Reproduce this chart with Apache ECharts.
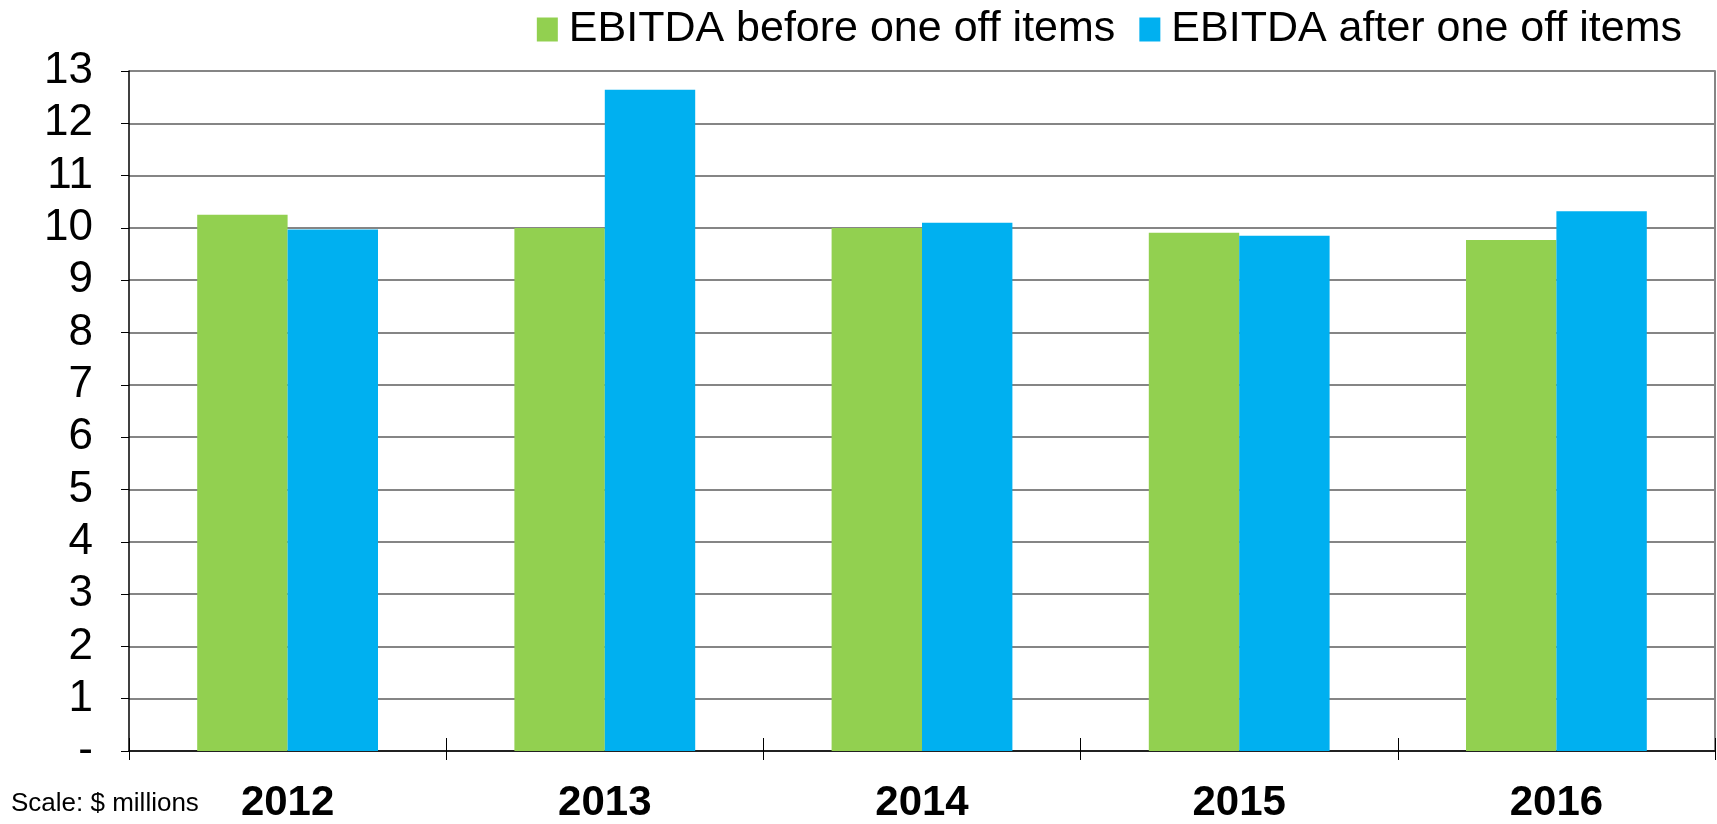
<!DOCTYPE html>
<html>
<head>
<meta charset="utf-8">
<script src="https://cdn.jsdelivr.net/npm/echarts@6/dist/echarts.min.js"></script>
<style>
  html, body { margin: 0; padding: 0; background: #ffffff; }
  #chart { width: 1717px; height: 824px; }
</style>
</head>
<body>
<div id="chart"></div>
<script>
// EBITDA by year, $ millions
const years = ['2012', '2013', '2014', '2015', '2016'];
const beforeOneOff = [10.25, 10.0, 10.0, 9.91, 9.77];
const afterOneOff = [9.97, 12.64, 10.1, 9.85, 10.32];
const seriesNames = ['EBITDA before one off items', 'EBITDA after one off items'];
const yTicks = { min: 0, max: 13, interval: 1 };

const font = '"Liberation Sans", Arial, sans-serif';
const chart = echarts.init(document.getElementById('chart'), null, { renderer: 'canvas' });

chart.setOption({
  animation: false,
  backgroundColor: '#ffffff',
  textStyle: { fontFamily: font },
  legend: {
    right: 30,
    top: 3,
    itemWidth: 21,
    itemHeight: 24,
    itemGap: 24,
    icon: 'rect',
    textStyle: { fontFamily: font, fontSize: 43, color: '#000000', padding: [0, 0, 0, 6] },
    data: seriesNames
  },
  grid: { left: 129, right: 2, top: 71, bottom: 69, containLabel: false },
  xAxis: [
    {
      type: 'category',
      data: years,
      axisLine: { show: true, lineStyle: { color: '#000000', width: 1.5 } },
      axisTick: { show: true, length: 9, lineStyle: { color: '#000000', width: 1 } },
      axisLabel: {
        fontFamily: font, fontSize: 42, fontWeight: 'bold', color: '#000000', margin: 31
      }
    },
    {
      type: 'category',
      data: years,
      position: 'bottom',
      axisLine: { show: false },
      axisTick: { show: true, inside: true, length: 13, lineStyle: { color: '#000000', width: 1 } },
      axisLabel: { show: false }
    }
  ],
  yAxis: [
    {
      type: 'value',
      min: yTicks.min,
      max: yTicks.max,
      interval: yTicks.interval,
      axisLine: { show: true, lineStyle: { color: '#000000', width: 1.5 } },
      axisTick: { show: true, length: 8, lineStyle: { color: '#000000', width: 1 } },
      axisLabel: {
        fontFamily: font, fontSize: 44, color: '#000000', margin: 36,
        formatter: v => (v === 0 ? '-' : String(v))
      },
      splitLine: { show: true, lineStyle: { color: '#858585', width: 2 } }
    },
    {
      type: 'value',
      position: 'right',
      min: yTicks.min,
      max: yTicks.max,
      interval: yTicks.interval,
      axisLine: { show: true, lineStyle: { color: '#858585', width: 2 } },
      axisTick: { show: false },
      axisLabel: { show: false },
      splitLine: { show: false }
    }
  ],
  series: [
    {
      name: seriesNames[0],
      type: 'bar',
      data: beforeOneOff,
      barGap: '0%',
      barCategoryGap: '43%',
      itemStyle: { color: '#92D050' },
      z: 3
    },
    {
      name: seriesNames[1],
      type: 'bar',
      data: afterOneOff,
      barGap: '0%',
      barCategoryGap: '43%',
      itemStyle: { color: '#00B0F0' },
      z: 3
    }
  ],
  graphic: [
    {
      type: 'text',
      left: 11,
      top: 791,
      style: { text: 'Scale: $ millions', fontFamily: font, fontSize: 26, fill: '#000000' }
    }
  ]
});
</script>
</body>
</html>
